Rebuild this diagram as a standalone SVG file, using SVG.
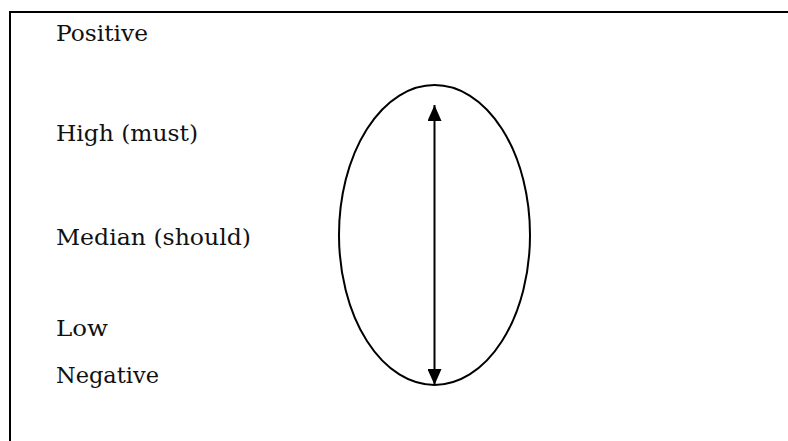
<svg xmlns="http://www.w3.org/2000/svg" width="788" height="441" viewBox="0 0 788 441">
<style>
.lbl{font-family:"DejaVu Serif","Liberation Serif",serif;font-size:22.5px;fill:#111}
.ln{stroke:#000;fill:none;stroke-width:2}
</style>
<defs>
<marker id="ah" viewBox="0 0 16 14" refX="16" refY="7" markerWidth="16" markerHeight="14" orient="auto" markerUnits="userSpaceOnUse">
<path d="M0,0 L16,7 L0,14 Z" fill="#000"/>
</marker>
</defs>
<rect width="788" height="441" fill="#fff"/>
<g id="frame">
<path class="ln" d="M10,441 L10,12 L788,12"/>
</g>
<g id="labels">
<text class="lbl" x="56" y="41" textLength="92" lengthAdjust="spacingAndGlyphs">Positive</text>
<text class="lbl" x="56" y="141" textLength="142" lengthAdjust="spacingAndGlyphs">High (must)</text>
<text class="lbl" x="56" y="245" textLength="195" lengthAdjust="spacingAndGlyphs">Median (should)</text>
<text class="lbl" x="56" y="336" textLength="52" lengthAdjust="spacingAndGlyphs">Low</text>
<text class="lbl" x="56" y="383" textLength="103" lengthAdjust="spacingAndGlyphs">Negative</text>
</g>
<g id="scale">
<ellipse class="ln" cx="434.5" cy="235" rx="95.5" ry="150"/>
</g>
<g id="connectors">
<line class="ln" x1="434.5" y1="235" x2="434.5" y2="105" marker-end="url(#ah)"/>
<line class="ln" x1="434.5" y1="235" x2="434.5" y2="385" marker-end="url(#ah)"/>
</g>
</svg>
